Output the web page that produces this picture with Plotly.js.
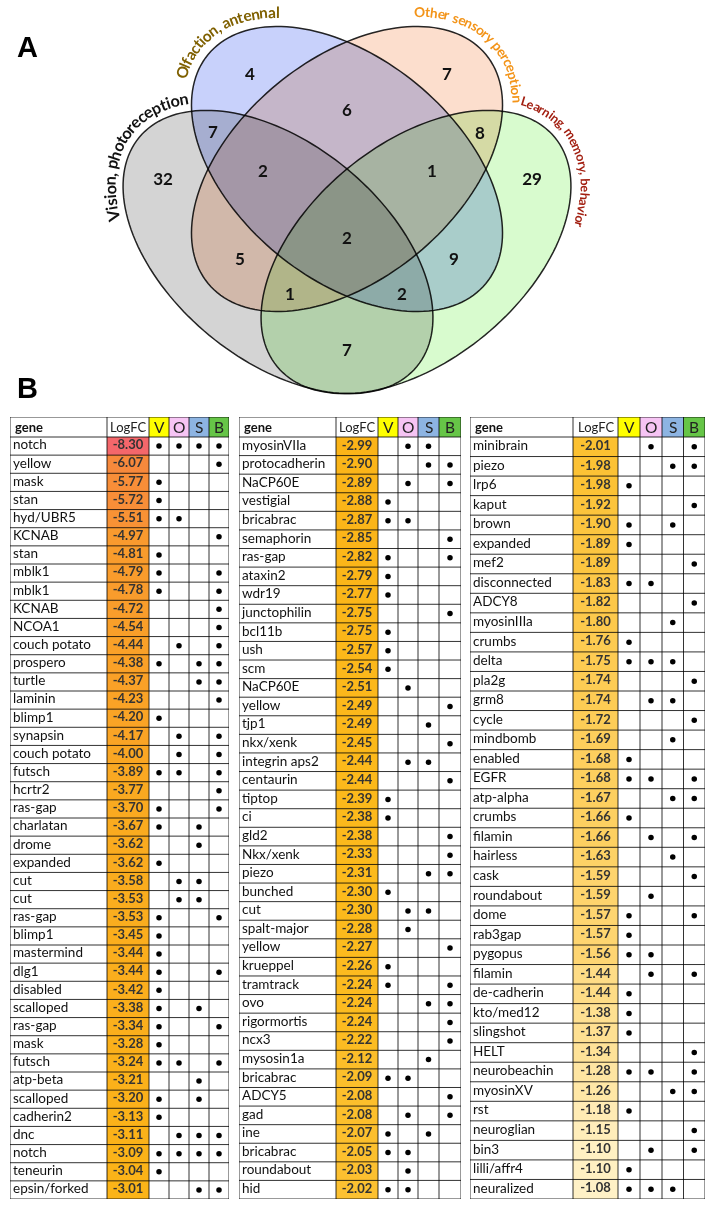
<!DOCTYPE html>
<html>
<head>
<meta charset="utf-8">
<script src="https://cdn.plot.ly/plotly-3.0.1.min.js"></script>
<style>
  html, body { margin: 0; padding: 0; background: #ffffff; }
  #chart { width: 716px; height: 1212px; }
  /* Venn fills are multiplied together so overlaps darken like the original */
  .shapelayer > g, .shapelayer > path { mix-blend-mode: multiply; }
</style>
</head>
<body>
<div id="chart"></div>
<script>
// ---------------- DATA ----------------
// Venn diagram
const vennSetNames = ['Vision, photoreception', 'Olfaction, antennal', 'Other sensory perception', 'Learning, memory, behavior'];
const vennSetKeys = ['V', 'O', 'S', 'B'];
const regionKeys = ['V', 'O', 'S', 'B', 'VO', 'OS', 'SB', 'VOS', 'OSB', 'VOSB', 'VS', 'OB', 'VSB', 'VOB', 'VB'];
const regionCounts = [32, 4, 7, 29, 7, 6, 8, 2, 1, 2, 5, 9, 1, 2, 7];

// Table, column 1
const genesT1 = ['notch','yellow','mask','stan','hyd/UBR5','KCNAB','stan','mblk1','mblk1','KCNAB','NCOA1','couch potato','prospero','turtle','laminin','blimp1','synapsin','couch potato','futsch','hcrtr2','ras-gap','charlatan','drome','expanded','cut','cut','ras-gap','blimp1','mastermind','dlg1','disabled','scalloped','ras-gap','mask','futsch','atp-beta','scalloped','cadherin2','dnc','notch','teneurin','epsin/forked'];
const logfcT1 = [-8.30,-6.07,-5.77,-5.72,-5.51,-4.97,-4.81,-4.79,-4.78,-4.72,-4.54,-4.44,-4.38,-4.37,-4.23,-4.20,-4.17,-4.00,-3.89,-3.77,-3.70,-3.67,-3.62,-3.62,-3.58,-3.53,-3.53,-3.45,-3.44,-3.44,-3.42,-3.38,-3.34,-3.28,-3.24,-3.21,-3.20,-3.13,-3.11,-3.09,-3.04,-3.01];
const setsT1 = ['VOSB','B','V','V','VO','B','V','VB','VB','B','B','OB','VSB','SB','B','V','OB','OB','VOB','B','VB','VS','S','V','OS','OS','VB','V','V','VB','V','VS','VB','V','VOB','S','VS','V','OSB','VOSB','V','SB'];

// Table, column 2
const genesT2 = ['myosinVIIa','protocadherin','NaCP60E','vestigial','bricabrac','semaphorin','ras-gap','ataxin2','wdr19','junctophilin','bcl11b','ush','scm','NaCP60E','yellow','tjp1','nkx/xenk','integrin aps2','centaurin','tiptop','ci','gld2','Nkx/xenk','piezo','bunched','cut','spalt-major','yellow','krueppel','tramtrack','ovo','rigormortis','ncx3','mysosin1a','bricabrac','ADCY5','gad','ine','bricabrac','roundabout','hid'];
const logfcT2 = [-2.99,-2.90,-2.89,-2.88,-2.87,-2.85,-2.82,-2.79,-2.77,-2.75,-2.75,-2.57,-2.54,-2.51,-2.49,-2.49,-2.45,-2.44,-2.44,-2.39,-2.38,-2.38,-2.33,-2.31,-2.30,-2.30,-2.28,-2.27,-2.26,-2.24,-2.24,-2.24,-2.22,-2.12,-2.09,-2.08,-2.08,-2.07,-2.05,-2.03,-2.02];
const setsT2 = ['OS','SB','OB','V','VO','B','VB','V','V','B','V','V','V','O','B','S','B','OS','B','V','V','B','B','SB','V','OS','O','B','V','VB','SB','B','B','S','VO','B','OB','VS','VO','O','VO'];

// Table, column 3
const genesT3 = ['minibrain','piezo','lrp6','kaput','brown','expanded','mef2','disconnected','ADCY8','myosinIIIa','crumbs','delta','pla2g','grm8','cycle','mindbomb','enabled','EGFR','atp-alpha','crumbs','filamin','hairless','cask','roundabout','dome','rab3gap','pygopus','filamin','de-cadherin','kto/med12','slingshot','HELT','neurobeachin','myosinXV','rst','neuroglian','bin3','lilli/affr4','neuralized'];
const logfcT3 = [-2.01,-1.98,-1.98,-1.92,-1.90,-1.89,-1.89,-1.83,-1.82,-1.80,-1.76,-1.75,-1.74,-1.74,-1.72,-1.69,-1.68,-1.68,-1.67,-1.66,-1.66,-1.63,-1.59,-1.59,-1.57,-1.57,-1.56,-1.44,-1.44,-1.38,-1.37,-1.34,-1.28,-1.26,-1.18,-1.15,-1.10,-1.10,-1.08];
const setsT3 = ['OB','SB','V','B','VS','V','B','VO','B','S','V','VOS','B','OS','B','S','V','VOB','SB','V','OB','S','B','O','VB','V','VO','OB','V','V','V','B','VOB','SB','V','B','OB','V','VOS'];

const tableHeader = ['gene', 'LogFC', 'V', 'O', 'S', 'B'];

// ---------------- LAYOUT / STYLE ----------------
const W = 716, H = 1212;
const FONT = 'Lato, "Open Sans", sans-serif';
const DEG = Math.PI / 180;

// Venn ellipses (pixel geometry)
const ELL = {
  V: { cx: 278, cy: 252, a: 180, b: 108, rot: 39.5 * DEG, fill: 'rgb(212,212,212)' },
  O: { cx: 347, cy: 169, a: 180, b: 110, rot: 39.5 * DEG, fill: 'rgb(200,209,251)' },
  S: { cx: 347, cy: 169, a: 180, b: 110, rot: -39.5 * DEG, fill: 'rgb(252,222,205)' },
  B: { cx: 416, cy: 252, a: 180, b: 108, rot: -39.5 * DEG, fill: 'rgb(216,251,206)' }
};
const REGION_POS = {
  V: [163, 181], O: [250, 76], S: [447, 76], B: [532, 181],
  VO: [213, 134], OS: [347, 112], SB: [480, 135], VOS: [263, 173], OSB: [432, 173],
  VOSB: [347, 240], VS: [240, 261], OB: [454, 261], VSB: [290, 296], VOB: [402, 296], VB: [347, 352]
};
const LABELS = {
  V: { off: 14, p0: [106, 214], p1: [182, 97], color: '#111111' },
  O: { off: 15, p0: [184, 74], p1: [281, 19], color: '#7F6000' },
  S: { off: 15, p0: [418, 15], p1: [513, 101], color: '#F39419' },
  B: { off: 14, p0: [522, 105], p1: [578, 225], color: '#A21E10' }
};

function ellipsePoint(E, off, t) {
  const A = E.a + off, B = E.b + off, c = Math.cos(E.rot), s = Math.sin(E.rot);
  const u = A * Math.cos(t), v = B * Math.sin(t);
  return [E.cx + u * c - v * s, E.cy + u * s + v * c];
}
function paramOf(E, off, p) {
  const A = E.a + off, B = E.b + off, c = Math.cos(E.rot), s = Math.sin(E.rot);
  const dx = p[0] - E.cx, dy = p[1] - E.cy;
  const u = dx * c + dy * s, v = -dx * s + dy * c;
  return Math.atan2(v / B, u / A);
}
function ellipsePath(E) {
  let d = '';
  const N = 160;
  for (let i = 0; i <= N; i++) {
    const p = ellipsePoint(E, 0, 2 * Math.PI * i / N);
    d += (i ? 'L' : 'M') + p[0].toFixed(2) + ',' + p[1].toFixed(2);
  }
  return d + 'Z';
}

const traces = [];
const shapes = [];
const annotations = [];

// Venn fills then outlines
vennSetKeys.forEach(k => {
  shapes.push({ type: 'path', xref: 'x', yref: 'y', path: ellipsePath(ELL[k]), fillcolor: ELL[k].fill, line: { width: 0 }, layer: 'below' });
});
vennSetKeys.forEach(k => {
  shapes.push({ type: 'path', xref: 'x', yref: 'y', path: ellipsePath(ELL[k]), fillcolor: 'rgba(0,0,0,0)', line: { color: '#262626', width: 1.5 }, layer: 'below' });
});

// Region counts
traces.push({
  type: 'scatter', mode: 'text', xaxis: 'x', yaxis: 'y',
  x: regionKeys.map(k => REGION_POS[k][0]),
  y: regionKeys.map(k => REGION_POS[k][1]),
  text: regionCounts.map(String),
  textposition: 'middle center',
  textfont: { family: FONT, size: 17, color: '#111', weight: 'bold' },
  hoverinfo: 'skip', cliponaxis: false
});

// Curved set labels
const measureCtx = document.createElement('canvas').getContext('2d');
function curvedLabel(text, E, L) {
  const t0 = paramOf(E, L.off, L.p0);
  let t1 = paramOf(E, L.off, L.p1);
  while (t1 < t0) t1 += 2 * Math.PI;
  const N = 800, pts = [], cum = [0];
  for (let i = 0; i <= N; i++) {
    pts.push(ellipsePoint(E, L.off, t0 + (t1 - t0) * i / N));
    if (i) cum.push(cum[i - 1] + Math.hypot(pts[i][0] - pts[i - 1][0], pts[i][1] - pts[i - 1][1]));
  }
  const len = cum[N];
  const base = 20;
  measureCtx.font = 'bold ' + base + 'px Lato';
  const chars = Array.from(text);
  const w = chars.map(c => measureCtx.measureText(c).width);
  let acc = 0;
  const centers = w.map(wi => { const c = acc + wi / 2; acc += wi; return c; });
  const span = centers[centers.length - 1] - centers[0];
  const k = len / span;
  const fs = base * k;
  chars.forEach((ch, i) => {
    if (ch === ' ') return;
    const s = (centers[i] - centers[0]) * k;
    let j = 0;
    while (j < N - 1 && cum[j + 1] < s) j++;
    const f = Math.min(1, Math.max(0, (s - cum[j]) / (cum[j + 1] - cum[j])));
    const x = pts[j][0] + f * (pts[j + 1][0] - pts[j][0]);
    const y = pts[j][1] + f * (pts[j + 1][1] - pts[j][1]);
    const ang = Math.atan2(pts[j + 1][1] - pts[j][1], pts[j + 1][0] - pts[j][0]) / DEG;
    annotations.push({
      xref: 'x', yref: 'y', x: x, y: y, text: ch, textangle: ang, showarrow: false,
      xanchor: 'center', yanchor: 'middle',
      font: { family: FONT, size: fs, color: L.color, weight: 'bold' }
    });
  });
}
vennSetKeys.forEach((k, i) => curvedLabel(vennSetNames[i], ELL[k], LABELS[k]));

// Panel letters
annotations.push({ xref: 'x', yref: 'y', x: 27, y: 47, text: 'A', showarrow: false, font: { family: 'Liberation Sans, Arial, sans-serif', size: 29, color: '#000', weight: 'bold' } });
annotations.push({ xref: 'x', yref: 'y', x: 27, y: 388, text: 'B', showarrow: false, font: { family: 'Liberation Sans, Arial, sans-serif', size: 29, color: '#000', weight: 'bold' } });

// ---------------- TABLES ----------------
const HEADER_TOP = 417, HEADER_BOT = 437, TABLE_BOT = 1199;
const FC_MIN = -8.30, FC_MAX = -1.08;
const FC_STOPS = [[-8.30, '#F4676B'], [-6.07, '#F7893C'], [-4.97, '#F99A2E'], [-4.0, '#FAA623'], [-3.0, '#FBB418'], [-2.3, '#FCBA1C'], [-2.0, '#FCC132'], [-1.75, '#FDCB52'], [-1.44, '#FEDC86'], [-1.08, '#FFF1C6']];
const FC_SCALE = FC_STOPS.map(([v, c]) => [(v - FC_MIN) / (FC_MAX - FC_MIN), c]);
const SET_FILL = { V: '#FFFF00', O: '#F6C4F4', S: '#8DB4E2', B: '#66C547' };
const SET_COL = { V: 2, O: 3, S: 4, B: 5 };
const GRID = '#333333';

const tables = [
  { genes: genesT1, fc: logfcT1, sets: setsT1, edges: [10, 107, 149, 169, 189, 209, 229] },
  { genes: genesT2, fc: logfcT2, sets: setsT2, edges: [239, 336, 378, 398, 418, 439, 461] },
  { genes: genesT3, fc: logfcT3, sets: setsT3, edges: [470, 573, 618, 640, 662, 683.5, 705] }
];

const layout = {
  width: W, height: H,
  margin: { l: 0, r: 0, t: 0, b: 0, pad: 0 },
  paper_bgcolor: '#ffffff', plot_bgcolor: 'rgba(0,0,0,0)',
  showlegend: false,
  xaxis: { domain: [0, 1], range: [0, W], visible: false, fixedrange: true },
  yaxis: { domain: [0, 1], range: [H, 0], visible: false, fixedrange: true },
  shapes: shapes, annotations: annotations
};

tables.forEach((T, k) => {
  const n = T.genes.length;
  const pitch = (TABLE_BOT - HEADER_BOT) / n;
  const hdr = (HEADER_BOT - HEADER_TOP) / pitch;
  const xa = 'x' + (k + 2), ya = 'y' + (k + 2);
  const e = T.edges;
  layout['xaxis' + (k + 2)] = { domain: [e[0] / W, e[6] / W], range: [e[0], e[6]], visible: false, anchor: ya, fixedrange: true };
  layout['yaxis' + (k + 2)] = { domain: [(H - TABLE_BOT) / H, (H - HEADER_TOP) / H], range: [n - 0.5, -0.5 - hdr], visible: false, anchor: xa, fixedrange: true };
  const rows = T.genes.map((_, i) => i);

  // LogFC coloured cells
  traces.push({
    type: 'heatmap', xaxis: xa, yaxis: ya,
    z: T.fc.map(v => [v]), x0: (e[1] + e[2]) / 2, dx: e[2] - e[1], y0: 0, dy: 1,
    zmin: FC_MIN, zmax: FC_MAX, colorscale: FC_SCALE, showscale: false, hoverinfo: 'skip'
  });
  // gene names
  traces.push({
    type: 'scatter', mode: 'text', xaxis: xa, yaxis: ya,
    x: rows.map(() => e[0] + 3), y: rows, text: T.genes,
    textposition: 'middle right', textfont: { family: FONT, size: 13.5, color: '#111' },
    hoverinfo: 'skip', cliponaxis: false
  });
  // LogFC values
  traces.push({
    type: 'scatter', mode: 'text', xaxis: xa, yaxis: ya,
    x: rows.map(() => (e[1] + e[2]) / 2), y: rows, text: T.fc.map(v => v.toFixed(2)),
    textposition: 'middle center', textfont: { family: FONT, size: 13, color: '#333', weight: 'bold' },
    hoverinfo: 'skip', cliponaxis: false
  });
  // membership dots
  const dx = [], dy = [];
  T.sets.forEach((s, i) => {
    for (const ch of s) { const c = SET_COL[ch]; dx.push((e[c] + e[c + 1]) / 2); dy.push(i); }
  });
  traces.push({
    type: 'scatter', mode: 'markers', xaxis: xa, yaxis: ya, x: dx, y: dy,
    marker: { size: 5.5, color: '#000' }, hoverinfo: 'skip', cliponaxis: false
  });

  // header
  const yH = -0.5 - hdr / 2;
  vennSetKeys.forEach(key => {
    const c = SET_COL[key];
    shapes.push({ type: 'rect', xref: xa, yref: ya, x0: e[c], x1: e[c + 1], y0: -0.5 - hdr, y1: -0.5, fillcolor: SET_FILL[key], line: { width: 0 }, layer: 'below' });
    annotations.push({ xref: xa, yref: ya, x: (e[c] + e[c + 1]) / 2, y: yH, text: tableHeader[c], showarrow: false, xanchor: 'center', yanchor: 'middle', font: { family: FONT, size: 15.5, color: '#222' } });
  });
  annotations.push({ xref: xa, yref: ya, x: e[0] + 3, y: yH, text: tableHeader[0], showarrow: false, xanchor: 'left', yanchor: 'middle', font: { family: FONT, size: 13, color: '#111', weight: 'bold' } });
  annotations.push({ xref: xa, yref: ya, x: (e[1] + e[2]) / 2, y: yH, text: tableHeader[1], showarrow: false, xanchor: 'center', yanchor: 'middle', font: { family: FONT, size: 13, color: '#222' } });

  // grid lines
  shapes.push({ type: 'line', xref: xa, yref: ya, x0: e[0], x1: e[6], y0: -0.5 - hdr, y1: -0.5 - hdr, line: { color: GRID, width: 1 } });
  for (let r = -1; r < n; r++) {
    shapes.push({ type: 'line', xref: xa, yref: ya, x0: e[0], x1: e[6], y0: r + 0.5, y1: r + 0.5, line: { color: GRID, width: 1 } });
  }
  e.forEach(xv => {
    shapes.push({ type: 'line', xref: xa, yref: ya, x0: xv, x1: xv, y0: -0.5 - hdr, y1: n - 0.5, line: { color: GRID, width: 1 } });
  });
});

Plotly.newPlot('chart', traces, layout, { staticPlot: true, displayModeBar: false });
</script>
</body>
</html>
